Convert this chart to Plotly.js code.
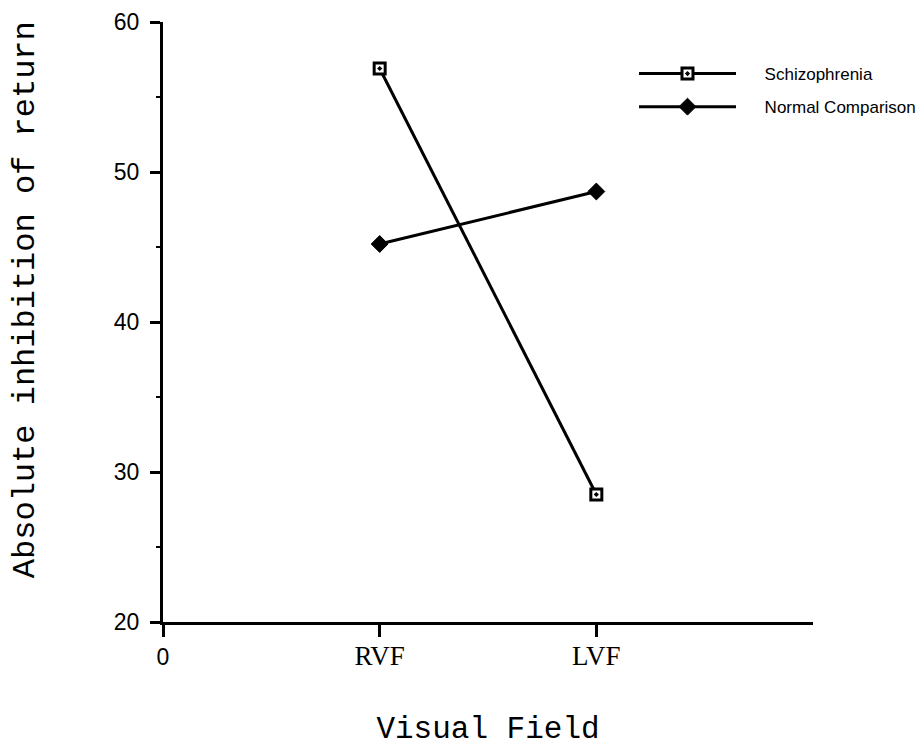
<!DOCTYPE html>
<html>
<head>
<meta charset="utf-8">
<script src="https://cdn.plot.ly/plotly-3.0.1.min.js"></script>
<style>
  html, body { margin: 0; padding: 0; background: #fff; overflow: hidden; }
  #chart { width: 922px; height: 747px; }
</style>
</head>
<body>
<div id="chart"></div>
<script>
// ---- data ----
const tickLabels = ['0', 'RVF', 'LVF'];
const fields = ['RVF', 'LVF'];
const schizophrenia = [56.9, 28.5];
const normalComparison = [45.2, 48.7];
const seriesNames = ['Schizophrenia', 'Normal Comparison'];
const yTicks = [20, 30, 40, 50, 60];
const xTitle = 'Visual Field';
const yTitle = 'Absolute inhibition of return';

const serif = 'Liberation Serif, Times New Roman, serif';
const mono = 'Liberation Mono, Courier New, monospace';
const sans = 'Liberation Sans, Arial, sans-serif';

const tickText = tickLabels.map(t => /^[0-9]+$/.test(t) ? t :
  '<span style="font-family:' + serif + ';font-size:27px">' + t + '</span>');

const pad = '\u00a0\u00a0\u00a0\u00a0\u00a0';

const traces = [
  {
    x: fields, y: schizophrenia, name: pad + seriesNames[0], legendgroup: 'a',
    type: 'scatter', mode: 'lines+markers',
    line: { color: '#000', width: 3 },
    marker: { symbol: 'square-dot', size: 11, color: '#fff', line: { color: '#000', width: 3 } }
  },
  {
    x: fields, y: normalComparison, name: pad + seriesNames[1], legendgroup: 'b',
    type: 'scatter', mode: 'lines+markers',
    line: { color: '#000', width: 3 },
    marker: { symbol: 'diamond', size: 13, color: '#000', line: { color: '#000', width: 1 } }
  }
];

const layout = {
  width: 922, height: 747,
  margin: { l: 163, r: 109, t: 22, b: 125, autoexpand: false },
  paper_bgcolor: '#fff', plot_bgcolor: '#fff',
  showlegend: true,
  legend: {
    x: 0.7246, y: 0.9433, xanchor: 'left', yanchor: 'top',
    font: { family: sans, size: 17, color: '#000' },
    itemwidth: 97, tracegroupgap: 8,
    bgcolor: 'rgba(0,0,0,0)'
  },
  xaxis: {
    type: 'category',
    categoryorder: 'array', categoryarray: tickLabels,
    range: [0, 3],
    tickvals: tickLabels, ticktext: tickText,
    showgrid: false, zeroline: false,
    showline: true, linecolor: '#000', linewidth: 3,
    ticks: 'outside', ticklen: 12, tickwidth: 3, tickcolor: '#000',
    tickfont: { family: sans, size: 23, color: '#000' },
    title: { text: xTitle, font: { family: mono, size: 31, color: '#000' }, standoff: 52 }
  },
  yaxis: {
    range: [20, 60],
    tickvals: yTicks,
    showgrid: false, zeroline: false,
    showline: true, linecolor: '#000', linewidth: 3,
    ticks: 'outside', ticklen: 10, tickwidth: 3, tickcolor: '#000',
    ticklabelstandoff: 6,
    minor: { dtick: 5, ticks: 'outside', ticklen: 4, tickwidth: 2, tickcolor: '#000', showgrid: false },
    tickfont: { family: sans, size: 23, color: '#000' }
  },
  annotations: [{
    text: yTitle, xref: 'paper', yref: 'paper',
    x: -0.2105, y: 0.5367, xanchor: 'center', yanchor: 'middle',
    textangle: -90, showarrow: false,
    font: { family: mono, size: 32, color: '#000' }
  }]
};

Plotly.newPlot('chart', traces, layout, { displayModeBar: false, staticPlot: true });
</script>
</body>
</html>
